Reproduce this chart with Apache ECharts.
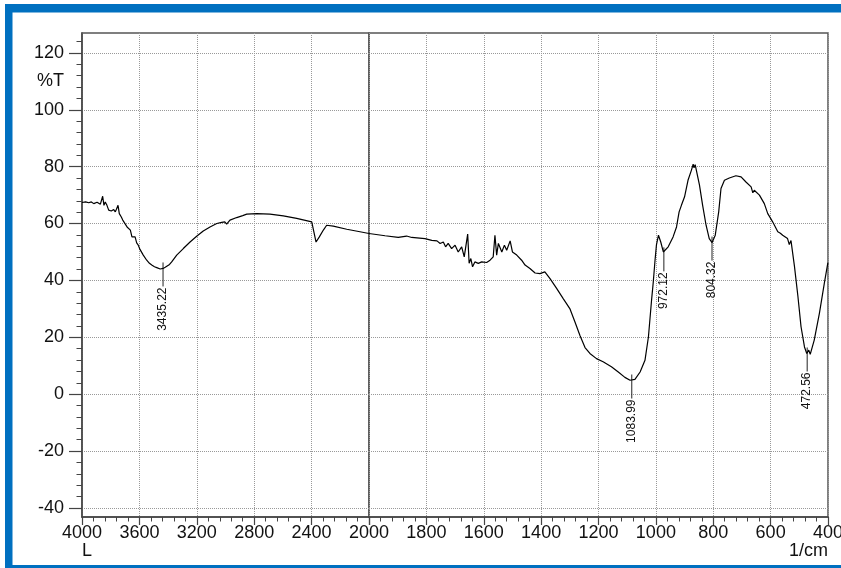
<!DOCTYPE html>
<html><head><meta charset="utf-8">
<script src="https://cdn.jsdelivr.net/npm/echarts@6/dist/echarts.min.js"></script>
<style>html,body{margin:0;padding:0;background:#fff}#c{width:841px;height:568px}</style>
</head><body><div id="c"></div><script>
// Spectrum, 4000-2000 cm-1 (compressed scale)
const wnLeft = [4000,3975,3953,3935,3918,3895,3872,3861,3856,3847,3838,3826,3814,3805,3796,3779,3768,3760,3749,3740,3726,3716,3704,3686,3675,3663,3652,3642,3630,3619,3608,3596,3585,3573,3560,3549,3530,3514,3495,3479,3455,3435,3420,3410,3390,3375,3340,3294,3247,3201,3155,3108,3061,3026,3005,2992,2969,2922,2880,2852,2782,2690,2597,2504,2399,2388,2369,2360,2346,2337,2318,2295,2249,2155,2063,2000];
const tLeft  = [67.4,67.6,67.3,67.6,67.0,67.5,66.8,67.4,69.6,66.4,67.6,66.4,64.7,65.2,64.4,64.9,64.1,65.0,66.4,63.5,62.3,61.2,61.5,58.8,59.4,57.7,55.3,54.7,55.3,53.2,52.4,50.9,50.2,48.9,48.2,47.1,46.0,45.4,44.8,44.5,44.0,44.2,44.6,45.0,45.6,46.5,48.9,51.2,53.5,55.5,57.4,58.8,60.0,60.4,60.6,59.8,61.2,62.1,62.8,63.3,63.5,63.3,62.7,61.8,60.6,60.0,53.5,53.0,55.3,54.7,57.7,59.4,59.1,58.0,57.1,56.5];
// Spectrum, 2000-400 cm-1 (expanded scale)
const wnRight = [2000,1944,1898,1869,1851,1805,1781,1763,1752,1741,1733,1724,1712,1700,1689,1677,1668,1656,1651,1645,1639,1631,1619,1607,1590,1578,1567,1561,1555,1549,1537,1528,1520,1508,1500,1485,1468,1456,1439,1421,1404,1387,1369,1346,1323,1300,1282,1265,1247,1230,1207,1184,1155,1131,1108,1090,1084,1073,1055,1038,1026,1015,1009,1003,998,991,983,974,968,957,940,928,919,911,900,888,876,870,867,863,859,848,837,825,814,804,793,781,773,761,744,721,703,686,668,662,657,639,622,610,600,593,575,566,558,541,535,529,517,505,494,482,474,467,462,448,430,413,401,400];
const tRight  = [56.5,55.7,55.1,55.6,55.1,54.7,54.1,53.9,53.0,53.5,51.8,53.0,51.2,52.4,50.0,51.8,48.3,56.3,46.0,47.7,44.8,46.5,46.0,46.5,46.3,47.1,48.3,55.9,48.9,53.0,50.0,52.4,50.6,53.9,50.0,48.9,47.1,45.4,44.2,42.6,42.4,43.0,40.6,37.2,33.6,30.1,25.4,20.7,16.4,14.3,12.5,11.4,9.6,7.8,5.9,4.9,4.8,5.2,7.8,11.9,20.1,33.1,39.5,47.0,52.5,55.9,53.5,50.0,49.5,51.8,55.3,58.8,64.1,66.4,69.4,75.2,78.8,80.9,79.6,80.7,78.8,73.5,66.4,59.4,54.7,53.3,55.9,64.1,72.3,75.2,76.0,76.8,76.4,74.6,72.9,70.8,71.7,70.0,67.0,63.5,61.8,60.6,57.1,56.6,55.9,54.7,52.6,54.0,45.0,34.5,23.7,16.6,14.3,15.5,14.0,19.0,28.4,38.9,45.9,46.2];
// Labelled peaks
const peakWn = [3435.22,1083.99,972.12,804.32,472.56];
const peakT  = [44.2,4.8,49.5,53.3,14.3];
// Axis ticks / labels
const yMajor = [-40,-20,0,20,40,60,80,100,120];
const yMinor = [-40,-36,-32,-28,-24,-20,-16,-12,-8,-4,0,4,8,12,16,20,24,28,32,36,40,44,48,52,56,60,64,68,72,76,80,84,88,92,96,100,104,108,112,116,120,124];
const yUnitSlot = 110, yUnit = '%T';
const xUnitLeft = 'L', xUnitRight = '1/cm';

const FONT = 'Liberation Sans';
const AX = '#444';
const zip = (a,b) => a.map((v,i)=>[v,b[i]]);
const leftPeaks = zip(peakWn,peakT).filter(p=>p[0]>=2000);
const rightPeaks = zip(peakWn,peakT).filter(p=>p[0]<2000);

function peakRender(params, api){
  const w = api.value(0), t = api.value(1);
  const p = api.coord([w,t]);
  return {type:'group', children:[
    {type:'line', shape:{x1:p[0],y1:p[1]-6,x2:p[0],y2:p[1]+18}, style:{stroke:'#222',lineWidth:1}},
    {type:'text', x:p[0], y:p[1]+19, rotation:Math.PI/2,
     style:{text:w.toFixed(2), fill:'#111', fontSize:12, fontFamily:FONT, align:'right', verticalAlign:'middle'}}
  ]};
}

const xCommon = {
  type:'value', inverse:true,
  axisLine:{onZero:false, lineStyle:{color:AX,width:1.5}},
  axisTick:{length:8,lineStyle:{color:AX,width:1.2}},
  minorTick:{show:true,splitNumber:5,length:4.5,lineStyle:{color:AX,width:1}},
  splitLine:{show:true,lineStyle:{color:'#999',type:'dotted',width:1}},
  minorSplitLine:{show:false}
};
const chart = echarts.init(document.getElementById('c'), null, {renderer:'canvas'});
chart.setOption({
  animation:false,
  backgroundColor:'#fff',
  grid:[
    {left:82, right:472, top:33, bottom:51, show:true, borderColor:'#555', borderWidth:1.5, outerBoundsMode:'none', containLabel:false},
    {left:369, right:13, top:33, bottom:51, show:true, borderColor:'#555', borderWidth:1.5, outerBoundsMode:'none', containLabel:false}
  ],
  xAxis:[
    Object.assign({}, xCommon, {gridIndex:0, min:2000, max:4000, interval:400,
      axisLabel:{fontSize:18, color:'#111', fontFamily:FONT, margin:7, formatter:v=>String(v)}}),
    Object.assign({}, xCommon, {gridIndex:1, min:400, max:2000, interval:200,
      axisLabel:{fontSize:18, color:'#111', fontFamily:FONT, margin:7, formatter:v=>v===2000?'':String(v)}})
  ],
  yAxis:[
    {gridIndex:0, type:'value', min:-43.2, max:127, position:'left',
     axisLine:{show:true,onZero:false,lineStyle:{color:AX,width:1.5}},
     axisTick:{show:true,length:13,customValues:yMajor,lineStyle:{color:AX,width:1.2}},
     axisLabel:{fontSize:18,color:'#111',fontFamily:FONT,margin:18,customValues:yMajor.concat([yUnitSlot]),
       formatter:v=>v===yUnitSlot?yUnit:String(v)},
     splitLine:{show:true,lineStyle:{color:'#999',type:'dotted',width:1}}},
    {gridIndex:0, type:'value', min:-43.2, max:127, position:'left',
     axisLine:{show:false,onZero:false}, axisLabel:{show:false}, splitLine:{show:false},
     axisTick:{show:true,length:5.5,customValues:yMinor,lineStyle:{color:AX,width:1}}},
    {gridIndex:1, type:'value', min:-43.2, max:127, position:'left',
     axisLine:{show:false,onZero:false}, axisLabel:{show:false},
     axisTick:{show:false,customValues:yMajor},
     splitLine:{show:true,lineStyle:{color:'#999',type:'dotted',width:1}}}
  ],
  series:[
    {type:'line', xAxisIndex:0, yAxisIndex:0, data:zip(wnLeft,tLeft), showSymbol:false, symbol:'none', silent:true,
     lineStyle:{color:'#000',width:1.2}},
    {type:'line', xAxisIndex:1, yAxisIndex:2, data:zip(wnRight,tRight), showSymbol:false, symbol:'none', silent:true,
     lineStyle:{color:'#000',width:1.2}},
    {type:'custom', xAxisIndex:0, yAxisIndex:0, data:leftPeaks, renderItem:peakRender, silent:true, clip:false},
    {type:'custom', xAxisIndex:1, yAxisIndex:2, data:rightPeaks, renderItem:peakRender, silent:true, clip:false}
  ],
  graphic:[
    {type:'rect', shape:{x:5,y:4,width:836,height:8.5}, style:{fill:'#0070C0'}, silent:true},
    {type:'rect', shape:{x:5,y:4,width:7.5,height:564}, style:{fill:'#0070C0'}, silent:true},
    {type:'rect', shape:{x:5,y:565,width:836,height:3}, style:{fill:'#0070C0'}, silent:true},
    {type:'text', left:82, top:542, style:{text:xUnitLeft, fontSize:18, fontFamily:FONT, fill:'#111'}},
    {type:'text', right:13, top:542, style:{text:xUnitRight, fontSize:18, fontFamily:FONT, fill:'#111'}}
  ]
});
</script></body></html>
